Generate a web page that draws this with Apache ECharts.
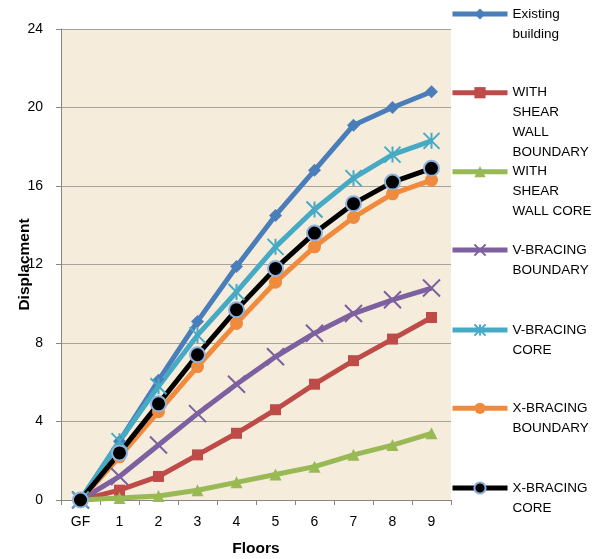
<!DOCTYPE html>
<html><head><meta charset="utf-8">
<script src="https://cdn.jsdelivr.net/npm/echarts@6/dist/echarts.min.js"></script>
<style>html,body{margin:0;padding:0;background:#fff}#c{width:593px;height:559px}</style>
</head><body><div id="c"></div><script>
const floors = ['GF','1','2','3','4','5','6','7','8','9'];
const seriesNames = ['Existing building','WITH SHEAR WALL BOUNDARY','WITH SHEAR WALL CORE','V-BRACING BOUNDARY','V-BRACING CORE','X-BRACING BOUNDARY','X-BRACING CORE'];
const legendLabels = ['Existing\nbuilding','WITH\nSHEAR\nWALL\nBOUNDARY','WITH\nSHEAR\nWALL CORE','V-BRACING\nBOUNDARY','V-BRACING\nCORE','X-BRACING\nBOUNDARY','X-BRACING\nCORE'];
const existing      = [0, 3.0, 6.1, 9.1, 11.9, 14.5, 16.8, 19.1, 20.0, 20.8];
const shearBoundary = [0, 0.5, 1.2, 2.3, 3.4, 4.6, 5.9, 7.1, 8.2, 9.3];
const shearCore     = [0, 0.1, 0.2, 0.5, 0.9, 1.3, 1.7, 2.3, 2.8, 3.4];
const vBoundary     = [0, 1.2, 2.8, 4.4, 5.9, 7.3, 8.5, 9.5, 10.2, 10.8];
const vCore         = [0, 3.0, 5.8, 8.4, 10.6, 12.9, 14.8, 16.4, 17.6, 18.3];
const xBoundary     = [0, 2.2, 4.5, 6.8, 9.0, 11.1, 12.9, 14.4, 15.6, 16.3];
const xCore         = [0, 2.4, 4.9, 7.4, 9.7, 11.8, 13.6, 15.1, 16.2, 16.9];
const yMin = 0, yMax = 24, yStep = 4;

const allData = [existing, shearBoundary, shearCore, vBoundary, vCore, xBoundary, xCore];
const colors = ['#4a7ebb','#be4b48','#98b954','#7d60a0','#46aac5','#f08a3c','#000000'];
const symbols = [
  'diamond','rect','triangle',
  'path://M0,0L10,10M10,0L0,10',
  'path://M0,0L10,10M10,0L0,10M5,0L5,10',
  'circle','circle'
];
const symbolSizes = [13, 11, 12, 17, 16, 13, 15];
const legendY = [14, 92.7, 171.7, 250, 330, 408.3, 488];
const FONT = 'Liberation Sans';
const LH = 20;

const series = allData.map((d, i) => {
  const s = {
    name: seriesNames[i], type: 'line', data: d,
    symbol: symbols[i], symbolSize: symbolSizes[i],
    lineStyle: {color: colors[i], width: 5},
    itemStyle: {color: colors[i]},
    emphasis: {disabled: true},
    animation: false
  };
  if (i === 3 || i === 4) {
    s.itemStyle = {color: 'rgba(0,0,0,0)', borderColor: colors[i], borderWidth: 2};
  }
  if (i === 6) {
    s.itemStyle = {color: '#000', borderColor: '#8fb2dc', borderWidth: 2};
  }
  return s;
});

const legends = legendLabels.map((lab, i) => {
  const n = lab.split('\n').length;
  // leading empty lines keep the first text line level with the icon
  const txt = '\n'.repeat(n - 1) + lab;
  return {
    data: [seriesNames[i]],
    left: 450,
    top: legendY[i] - (2 * n - 1) * LH / 2,
    padding: 0,
    itemWidth: 55, itemHeight: 14, itemGap: 3,
    selectedMode: false,
    lineStyle: {width: 5},
    formatter: () => txt,
    textStyle: {fontFamily: FONT, fontSize: 13.5, color: '#000', lineHeight: LH}
  };
});

const chart = echarts.init(document.getElementById('c'), null, {renderer: 'canvas'});
chart.setOption({
  animation: false,
  backgroundColor: '#fff',
  legend: legends,
  grid: {left: 61, right: 142, top: 29, bottom: 59, show: true, backgroundColor: '#f5ecdb', borderWidth: 0,
         containLabel: false, outerBoundsMode: 'none'},
  xAxis: {
    type: 'category', data: floors, boundaryGap: true,
    name: 'Floors', nameLocation: 'middle', nameGap: 41, nameMoveOverlap: false,
    nameTextStyle: {fontFamily: FONT, fontSize: 15.5, fontWeight: 'bold', color: '#000'},
    axisLine: {lineStyle: {color: '#868686', width: 1}},
    axisTick: {show: true, length: 5, alignWithLabel: false, lineStyle: {color: '#868686'}},
    axisLabel: {fontFamily: FONT, fontSize: 14, color: '#000', margin: 15},
    splitLine: {show: false}
  },
  yAxis: {
    type: 'value', min: yMin, max: yMax, interval: yStep,
    name: 'Displacment', nameLocation: 'middle', nameGap: 28, nameMoveOverlap: false,
    nameTextStyle: {fontFamily: FONT, fontSize: 15.5, fontWeight: 'bold', color: '#000'},
    axisLine: {show: true, lineStyle: {color: '#868686', width: 1}},
    axisTick: {show: true, length: 5, lineStyle: {color: '#868686'}},
    axisLabel: {fontFamily: FONT, fontSize: 14, color: '#000', margin: 18},
    splitLine: {show: true, lineStyle: {color: '#a6a39d', width: 1}}
  },
  series: series
});
</script></body></html>
